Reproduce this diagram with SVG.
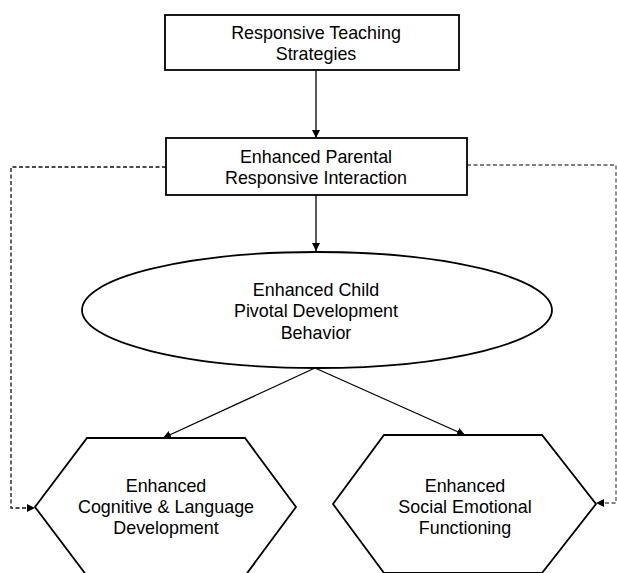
<svg xmlns="http://www.w3.org/2000/svg" width="617" height="573" viewBox="0 0 617 573">
<style>
.shape{fill:#fff;stroke:#000;stroke-width:1.8}
.conn{fill:none;stroke:#000;stroke-width:1.3}
.dash{fill:none;stroke:#111;stroke-width:1.3;stroke-dasharray:4,2.5}
.dash2{fill:none;stroke:#555;stroke-width:1.3;stroke-dasharray:4,2.5}
text{font-family:"Liberation Sans",Arial,sans-serif;font-size:17.9px;fill:#000;text-anchor:middle}
</style>
<defs>
<marker id="ah" viewBox="0 0 10 10" refX="10" refY="5" markerWidth="8" markerHeight="8" markerUnits="userSpaceOnUse" orient="auto">
<path d="M0,0 L10,5 L0,10 z" fill="#000"/>
</marker>
</defs>
<rect width="617" height="573" fill="#fff"/>
<g id="connectors">
<line class="conn" x1="316" y1="70" x2="316" y2="138" marker-end="url(#ah)"/>
<line class="conn" x1="316" y1="195" x2="316" y2="251" marker-end="url(#ah)"/>
<line class="conn" x1="315" y1="368" x2="163" y2="438" marker-end="url(#ah)"/>
<line class="conn" x1="315" y1="368" x2="465" y2="435" marker-end="url(#ah)"/>
<polyline class="dash" points="166,167 11,167 11,508 35,508" marker-end="url(#ah)"/>
<polyline class="dash2" points="467,165 616,165 616,503 596,503" marker-end="url(#ah)"/>
</g>
<g id="node-teaching">
<rect class="shape" x="165" y="15" width="294" height="55"/>
<text x="316" y="39">Responsive Teaching</text>
<text x="316" y="60">Strategies</text>
</g>
<g id="node-parental">
<rect class="shape" x="166" y="138" width="301" height="57"/>
<text x="316" y="163">Enhanced Parental</text>
<text x="316" y="184">Responsive Interaction</text>
</g>
<g id="node-child">
<ellipse class="shape" cx="317" cy="310" rx="235" ry="58"/>
<text x="316" y="296">Enhanced Child</text>
<text x="316" y="317">Pivotal Development</text>
<text x="316" y="339">Behavior</text>
</g>
<g id="node-cognitive">
<polygon class="shape" points="87,438 245,438 296,507 245,576 87,576 35,507"/>
<text x="166" y="492">Enhanced</text>
<text x="166" y="513">Cognitive &amp; Language</text>
<text x="166" y="534">Development</text>
</g>
<g id="node-social">
<polygon class="shape" points="384,435 542,435 596,504 542,573 384,573 333,504"/>
<text x="465" y="492">Enhanced</text>
<text x="465" y="513">Social Emotional</text>
<text x="465" y="534">Functioning</text>
</g>
</svg>
